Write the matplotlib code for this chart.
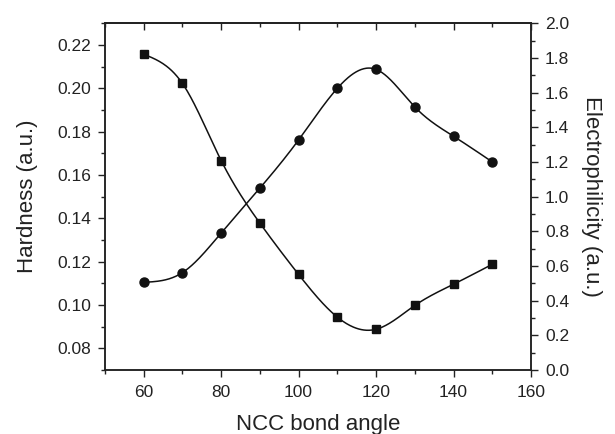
import numpy as np
import matplotlib
matplotlib.use("Agg")
import matplotlib.pyplot as plt
from matplotlib.ticker import MultipleLocator

plt.rcParams['font.family'] = ['Liberation Sans', 'DejaVu Sans']

angle = [60, 70, 80, 90, 100, 110, 120, 130, 140, 150]
hardness = [0.2158, 0.2023, 0.1667, 0.1378, 0.1141, 0.0944, 0.0888, 0.0998, 0.1096, 0.1188]
electrophilicity = [0.506, 0.562, 0.791, 1.050, 1.328, 1.626, 1.735, 1.518, 1.349, 1.201]


def natural_spline(x, y, n=400):
    x = np.asarray(x, float); y = np.asarray(y, float)
    m = len(x)
    h = np.diff(x)
    A = np.zeros((m, m)); b = np.zeros(m)
    A[0, 0] = 1; A[-1, -1] = 1
    for i in range(1, m - 1):
        A[i, i - 1] = h[i - 1]
        A[i, i] = 2 * (h[i - 1] + h[i])
        A[i, i + 1] = h[i]
        b[i] = 3 * ((y[i + 1] - y[i]) / h[i] - (y[i] - y[i - 1]) / h[i - 1])
    c = np.linalg.solve(A, b)
    xs = np.linspace(x[0], x[-1], n)
    idx = np.clip(np.searchsorted(x, xs) - 1, 0, m - 2)
    dx = xs - x[idx]
    bb = (y[idx + 1] - y[idx]) / h[idx] - h[idx] * (2 * c[idx] + c[idx + 1]) / 3
    d = (c[idx + 1] - c[idx]) / (3 * h[idx])
    ys = y[idx] + bb * dx + c[idx] * dx ** 2 + d * dx ** 3
    return xs, ys


fig = plt.figure(figsize=(6.15, 4.34), dpi=100)
ax = fig.add_axes([0.1707, 0.1475, 0.6927, 0.7984])
ax2 = ax.twinx()

xs, ys = natural_spline(angle, hardness)
ax.plot(xs, ys, color='#111111', lw=1.1)
ax.plot(angle, hardness, 's', color='#111111', ms=6)

xs, ys = natural_spline(angle, electrophilicity)
ax2.plot(xs, ys, color='#111111', lw=1.1)
ax2.plot(angle, electrophilicity, 'o', color='#111111', ms=6.5)

ax.set_xlim(50, 160)
ax.set_ylim(0.07, 0.23)
ax2.set_ylim(0.0, 2.0)

ax.xaxis.set_major_locator(MultipleLocator(20))
ax.xaxis.set_minor_locator(MultipleLocator(10))
ax.yaxis.set_major_locator(MultipleLocator(0.02))
ax.yaxis.set_minor_locator(MultipleLocator(0.01))
ax2.yaxis.set_major_locator(MultipleLocator(0.2))
ax2.yaxis.set_minor_locator(MultipleLocator(0.1))
ax.yaxis.set_major_formatter(matplotlib.ticker.FormatStrFormatter('%.2f'))
ax2.yaxis.set_major_formatter(matplotlib.ticker.FormatStrFormatter('%.1f'))

ax.tick_params(axis='x', which='both', direction='out', top=False, labelsize=12.5,
               color='#222222', labelcolor='#222222', pad=6)
ax.tick_params(axis='y', which='both', direction='out', labelsize=12.5,
               color='#222222', labelcolor='#222222', pad=5)
ax.tick_params(which='major', length=5, width=1)
ax.tick_params(which='minor', length=3, width=1)
ax2.tick_params(axis='y', which='both', direction='out', labelsize=12.5,
                color='#222222', labelcolor='#222222', pad=5)
ax2.tick_params(which='major', length=5, width=1)
ax2.tick_params(which='minor', length=3, width=1)

# top ticks inward
secx = ax.secondary_xaxis('top')
secx.xaxis.set_major_locator(MultipleLocator(20))
secx.xaxis.set_minor_locator(MultipleLocator(10))
secx.tick_params(which='both', direction='in', labeltop=False, color='#222222')
secx.tick_params(which='major', length=5, width=1)
secx.tick_params(which='minor', length=3, width=1)
secx.spines['top'].set_linewidth(1.1)
secx.spines['top'].set_color('#222222')

for a in (ax, ax2):
    for s in a.spines.values():
        s.set_linewidth(1.1)
        s.set_color('#222222')

ax.set_xlabel('NCC bond angle', fontsize=16, color='#222222', labelpad=10)
ax.set_ylabel('Hardness (a.u.)', fontsize=16, color='#222222', labelpad=14)
ax2.set_ylabel('Electrophilicity (a.u.)', fontsize=16, color='#222222', rotation=270, labelpad=24)

fig.savefig('out.png', dpi=100)
